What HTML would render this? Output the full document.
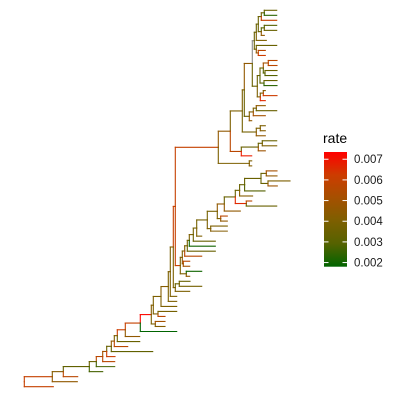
<!DOCTYPE html>
<html><head><meta charset="utf-8"><style>
html,body{margin:0;padding:0;background:#fff;}
svg{display:block;font-family:"Liberation Sans",sans-serif;}
</style></head><body>
<svg id="chart" width="400" height="400" viewBox="0 0 400 400" xmlns="http://www.w3.org/2000/svg">
<rect width="400" height="400" fill="#fff"/>
<g id="tree"></g>
<g id="legend">
  <defs>
    <linearGradient id="rg" x1="0" y1="1" x2="0" y2="0">
      <stop offset="0" stop-color="#006400"/><stop offset="0.2" stop-color="#556200"/>
      <stop offset="0.4" stop-color="#7d5f00"/><stop offset="0.6" stop-color="#a55000"/>
      <stop offset="0.8" stop-color="#cd3c00"/><stop offset="1" stop-color="#ff0000"/>
    </linearGradient>
  </defs>
  <text x="323" y="143" font-size="14" fill="#000">rate</text>
  <rect x="324" y="152" width="23" height="114.7" fill="url(#rg)"/>
  <g id="legend-ticks"></g>
</g>
</svg>
<script>
// Legend data
const legendTicks = [0.002, 0.003, 0.004, 0.005, 0.006, 0.007];
const legendTickLabels = ["0.002", "0.003", "0.004", "0.005", "0.006", "0.007"];
const rateMin = 0.0018, rateMax = 0.00735;
// Tree data: node = [depth, rate, ...children]; tip = [depth, rate]; children listed top to bottom
const T = (d, r) => [d, r];
const N = (d, r, ...c) => [d, r, ...c];
const treeData =
N(0, null,
 N(28, 0.0058,
  N(39, 0.0042,
   N(65, 0.0033,
    N(72, 0.0035,
     N(78.4, 0.0055,
      N(82.4, 0.005,
       N(87, 0.0035,
        N(90, 0.0045,
         N(93, 0.004,
          N(101, 0.006,
           N(116, 0.0058,
            N(127, 0.0072,
             N(129, 0.0042,
              N(136.7, 0.004,
               N(144, 0.0042,
                N(146, 0.004,
                 N(149, 0.004,
                  N(151, 0.0058,
                   N(194, 0.0058,
                    N(206, 0.0045,
                     N(218, 0.004,
                      N(220, 0.004,
                       N(228, 0.0045,
                        N(230, null,
                         N(232, 0.0035,
                          N(234, 0.0035,
                           N(237, 0.0035, N(240, 0.0035, T(252.4, 0.0035), T(252.4, 0.0025)), T(252.4, 0.0058)),
                           N(237, 0.0035, N(240, 0.003, T(252.4, 0.003), T(252.4, 0.0035)), T(240, 0.0045))),
                          T(242, 0.004)),
                         N(232, 0.0035, T(252.4, 0.0035), N(234, 0.0045, T(241, 0.0055), T(241, 0.006)))),
                        N(233, 0.0035,
                         N(235.7, 0.0035,
                          N(239, 0.0035, N(244, 0.005, T(252.7, 0.0055), T(252.7, 0.0055)), N(240.7, 0.003, T(252.7, 0.0035), T(252.7, 0.003))),
                          N(239.7, 0.003, T(252.7, 0.0035), T(252.7, 0.0025))),
                         N(236, 0.004, N(239, 0.004, T(241, 0.0042), T(252.7, 0.006)), T(241, 0.0065)))),
                       N(225, 0.0035,
                        N(229, 0.004, N(232, 0.004, T(241, 0.0045), T(252.4, 0.0035)), T(241, 0.005)),
                        T(227.4, 0.0045))),
                      N(232, 0.0038, N(236, 0.004, T(241, 0.004), T(241, 0.0042)), T(241, 0.0045))),
                     N(217, 0.0055,
                      N(234, 0.0035, N(238, 0.0035, T(252.4, 0.0035), T(252.4, 0.004)), T(241, 0.0048)),
                      T(227.4, 0.0068))),
                    N(225, 0.004, T(227.4, 0.004), T(227.4, 0.0042))),
                   N(156, 0.0058,
                    N(158, 0.004,
                     N(160.4, 0.004,
                      N(163, 0.004,
                       N(165, 0.0038,
                        N(169, 0.004,
                         N(172.4, 0.0038,
                          N(183, 0.0038,
                           N(193, 0.0038,
                            N(200, 0.0045,
                             N(211, 0.0035,
                              N(215.3, 0.0035,
                               N(220.3, 0.0035,
                                N(236.7, 0.0035,
                                 N(242, 0.0035, T(252.7, 0.005), T(252.7, 0.0045)),
                                 N(243.7, 0.0035, T(265.7, 0.004), T(253, 0.0048))),
                                T(240.7, 0.003)),
                               T(228.3, 0.0042)),
                              N(222, 0.0065, T(227.4, 0.0055), T(252.4, 0.0035))),
                             T(216, 0.0045)),
                            N(196.4, 0.004, T(203, 0.0055), T(203, 0.0045))),
                           N(186.4, 0.004, T(203, 0.004), T(203, 0.0042))),
                          T(177.4, 0.004)),
                         T(191, 0.0035)),
                        T(191, 0.0022)),
                       T(191, 0.0035)),
                      T(177.4, 0.0055)),
                     N(159, 0.0045, T(165.4, 0.0055), T(165.4, 0.005))),
                    N(162, 0.004, T(177.4, 0.0022), T(165.4, 0.0045)))),
                  N(151, 0.004, N(155, 0.0035, T(165.7, 0.0035), T(177.4, 0.0038)), T(165.4, 0.004))),
                 T(152.4, 0.004)),
                T(152.4, 0.004)),
               T(152.4, 0.004)),
              N(133.7, 0.004, T(152.4, 0.0038), T(140.7, 0.0055))),
             N(131, 0.004, T(140.7, 0.005), T(140.7, 0.0042))),
            T(152.4, 0.002)),
           T(115.4, 0.0045)),
          T(115.4, 0.0035)),
         T(103.4, 0.0055)),
        T(128.4, 0.0033)),
       T(90.7, 0.006)),
      T(90.4, 0.0055)),
     T(90.4, 0.0028)),
    T(78.4, 0.0028)),
   T(53.4, 0.0055)),
  T(53, 0.0045)),
 T(29, 0.0058));

const xOrigin = 24.3, yTop = 10.3, yBottom = 386.7;
const stops = [[0.002,[0,100,0]],[0.003,[85,98,0]],[0.004,[125,95,0]],[0.005,[165,80,0]],[0.006,[205,60,0]],[0.007,[245,20,0]],[0.0073,[255,0,0]]];
function rateColor(r){
  if(r===null) return "#8c8c8c";
  if(r<=stops[0][0]) return "rgb("+stops[0][1]+")";
  for(let i=1;i<stops.length;i++){
    if(r<=stops[i][0]){
      const a=stops[i-1][0],ca=stops[i-1][1],b=stops[i][0],cb=stops[i][1];const t=(r-a)/(b-a);
      return "rgb("+ca.map((v,k)=>Math.round(v+(cb[k]-v)*t)).join(",")+")";
    }
  }
  return "rgb(255,0,0)";
}
const xs = d => xOrigin + d;
function countTips(n){return n.length===2?1:n.slice(2).reduce((s,c)=>s+countTips(c),0);}
const nTips = countTips(treeData);
const step = (yBottom - yTop)/(nTips-1);
let tipIdx = 0;
function layout(n){
  const node={d:n[0],r:n[1],kids:[]};
  if(n.length===2){node.y=yTop+step*(tipIdx++);}
  else{node.kids=n.slice(2).map(layout);node.y=node.kids.reduce((s,k)=>s+k.y,0)/node.kids.length;}
  return node;
}
const root = layout(treeData);
const g = document.getElementById('tree');
const NS="http://www.w3.org/2000/svg";
function seg(x1,y1,x2,y2,col,name){
  const l=document.createElementNS(NS,'line');
  l.setAttribute('x1',x1);l.setAttribute('y1',y1);l.setAttribute('x2',x2);l.setAttribute('y2',y2);
  l.setAttribute('stroke',col);l.setAttribute('stroke-width','1.1');l.setAttribute('stroke-linecap','square');
  
  
  g.appendChild(l);
}
function draw(node){
  for(const k of node.kids){
    const c=rateColor(k.r);
    seg(xs(node.d),node.y,xs(node.d),k.y,c,'branch-vertical');
    seg(xs(node.d),k.y,xs(k.d),k.y,c,k.kids.length?'branch':'tip-branch');
    draw(k);
  }
}
draw(root);
const lt=document.getElementById('legend-ticks');
const ly = v => 266.7 - (v-rateMin)/(rateMax-rateMin)*114.7;
legendTicks.forEach((v,i)=>{
  const y=ly(v);
  for(const x of [324,342.5]){
    const l=document.createElementNS(NS,'line');
    l.setAttribute('x1',x);l.setAttribute('x2',x+4.5);l.setAttribute('y1',y);l.setAttribute('y2',y);
    l.setAttribute('stroke','#fff');l.setAttribute('stroke-width','1');
    
    
    lt.appendChild(l);
  }
  const t=document.createElementNS(NS,'text');
  t.setAttribute('x',354);t.setAttribute('y',y+4);t.setAttribute('font-size','11.5');t.setAttribute('fill','#1a1a1a');
  t.textContent=legendTickLabels[i];
  
  
  lt.appendChild(t);
});
</script>
</body></html>
